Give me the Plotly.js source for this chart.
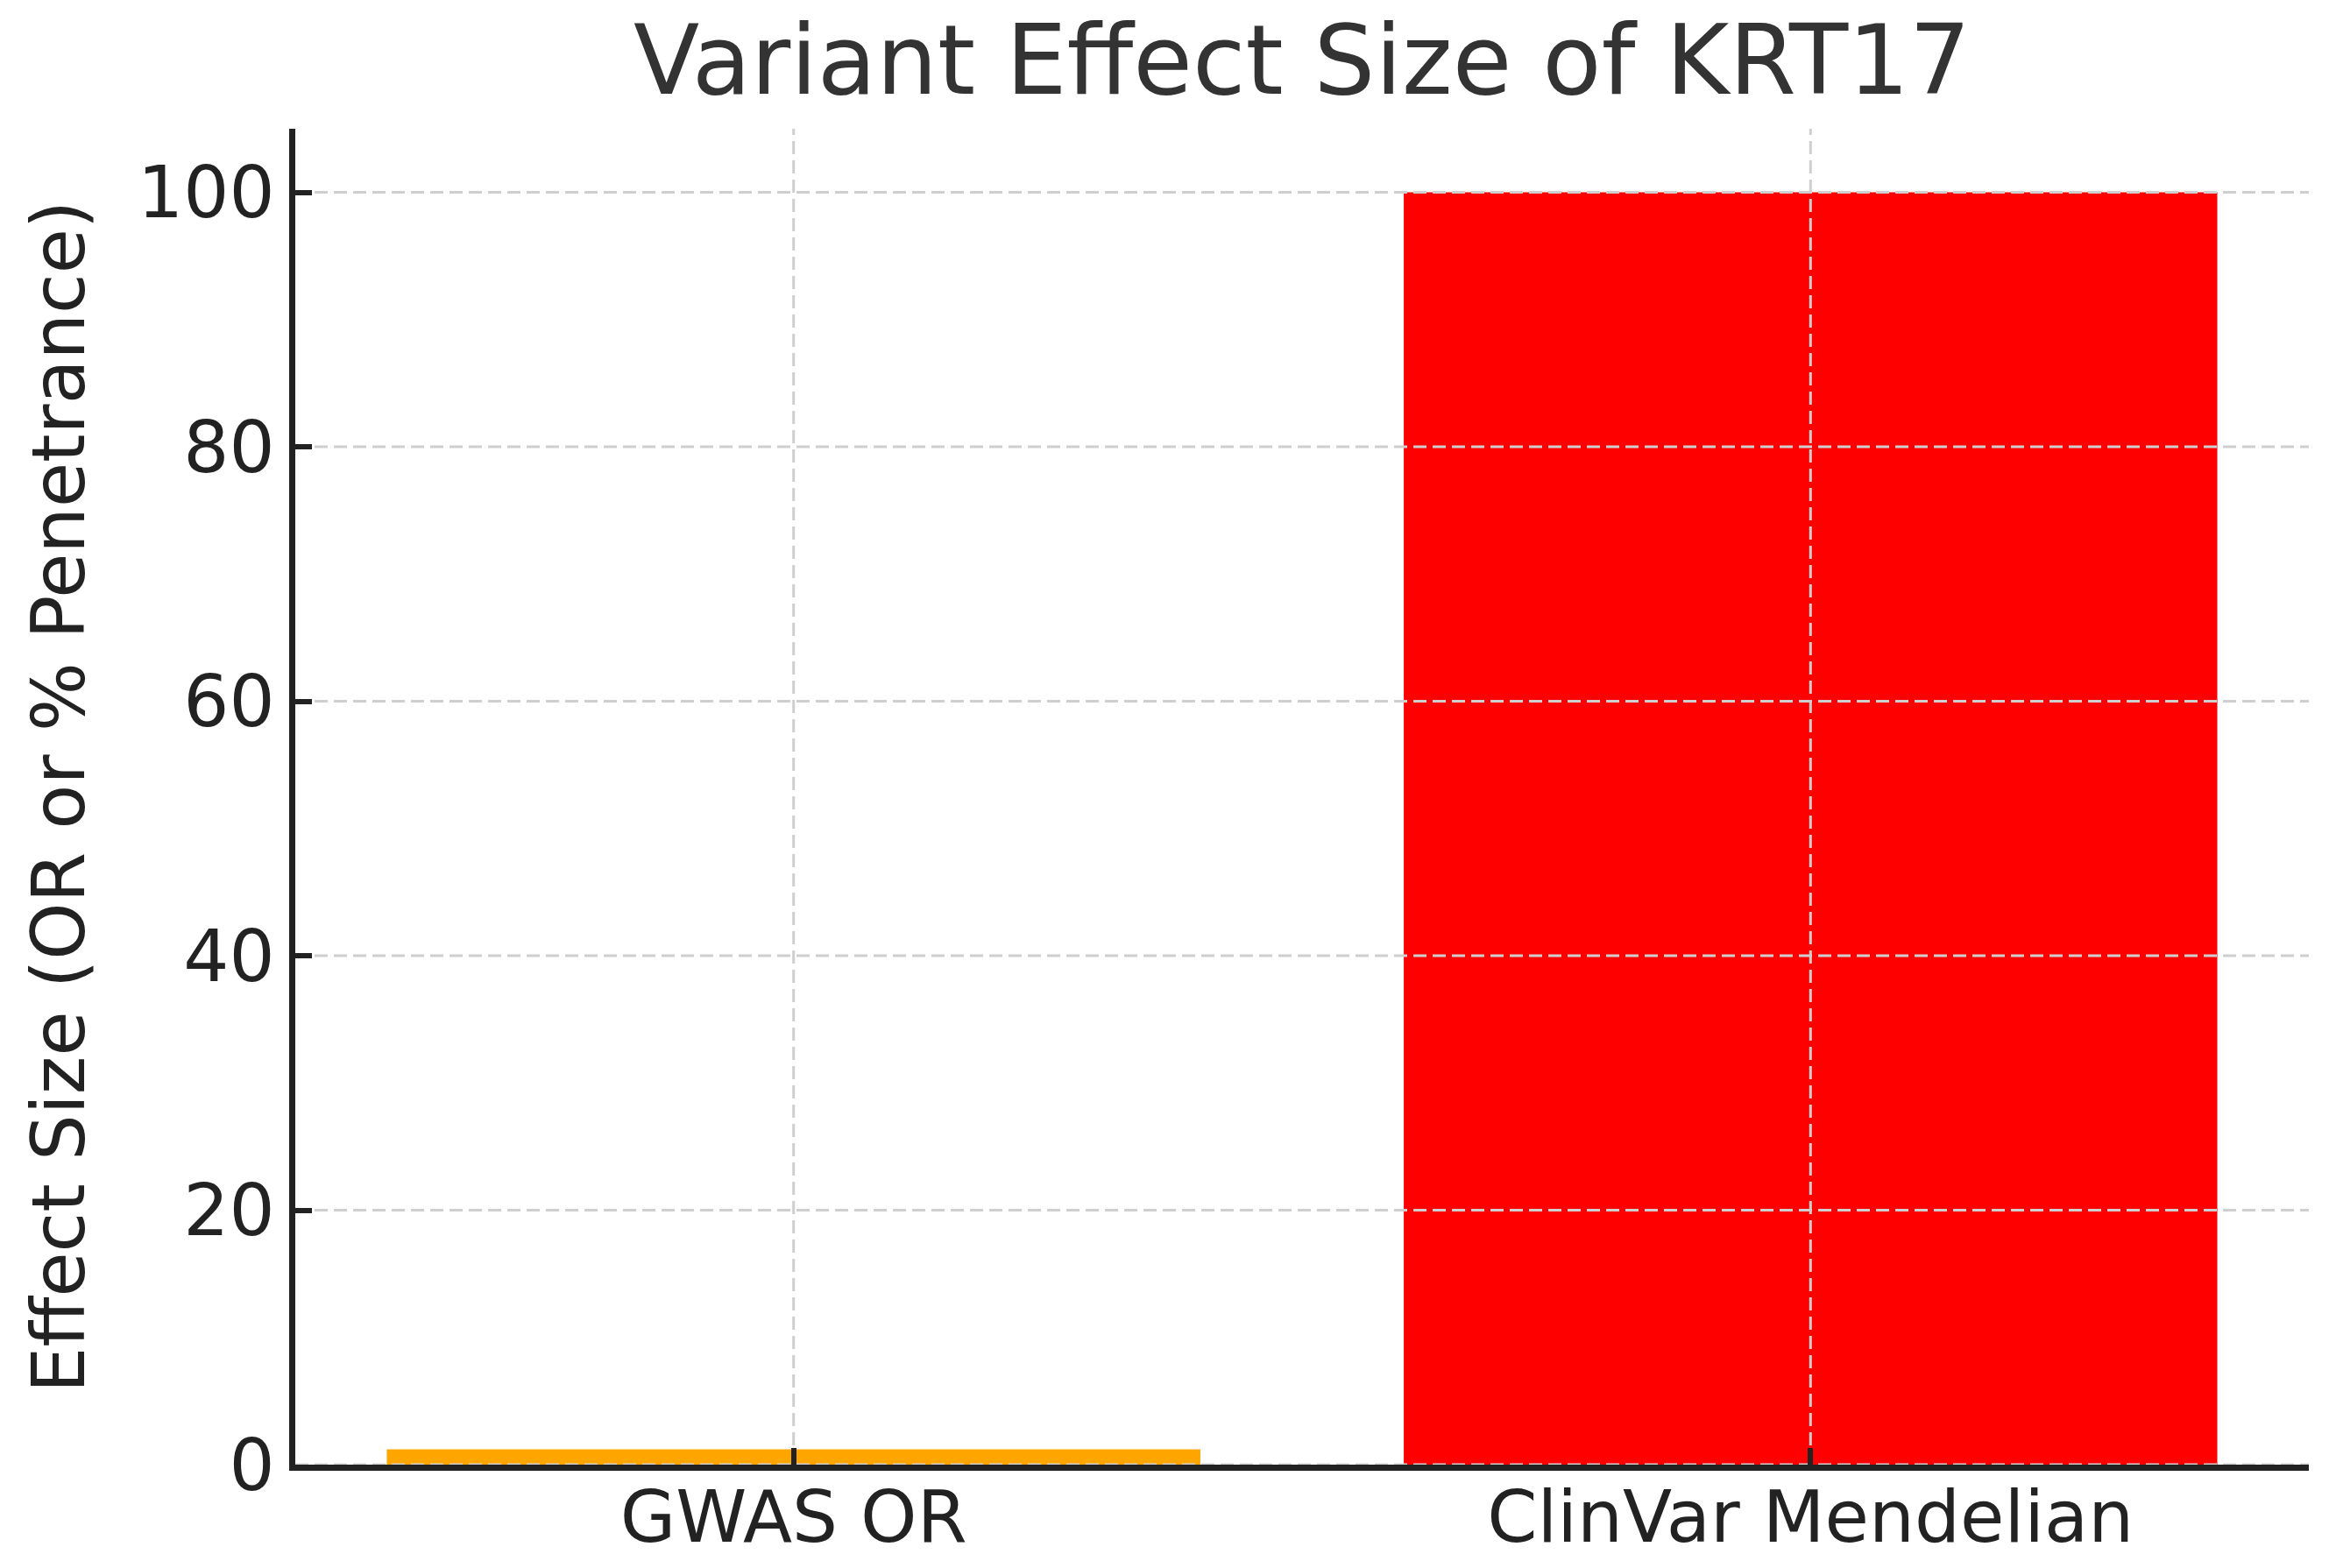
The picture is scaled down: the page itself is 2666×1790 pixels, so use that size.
<!DOCTYPE html>
<html>
<head>
<meta charset="utf-8">
<script src="https://cdn.plot.ly/plotly-3.0.1.min.js"></script>
<style>html,body{margin:0;padding:0;background:#fff;}</style>
</head>
<body>
<div id="chart" style="width:2666px;height:1790px;"></div>
<script>
// ---- data ----
const categories = ["GWAS OR", "ClinVar Mendelian"];
const effectSizes = [1.2, 100];
const barColors = ["#FFA500", "#FF0000"];
const yTickValues = [0, 20, 40, 60, 80, 100];
const yTickLabels = ["0", "20", "40", "60", "80", "100"];
const xRange = [-0.49, 1.49];
const yRange = [0, 105];

const chartTitle = "Variant Effect Size of KRT17";
const yTitle = "Effect Size (OR or % Penetrance)";

const gridStyle = {color: "#cfcfcf", width: 3, dash: "15px,7px"};

const traces = [];
traces.push({
  type: "bar",
  x: categories,
  y: effectSizes,
  width: 0.8,
  marker: {color: barColors, line: {width: 0}},
  hoverinfo: "x+y",
  showlegend: false
});

// gridlines drawn above the bars (overlay axes share the same ranges)
yTickValues.forEach(function (t) {
  traces.push({
    type: "scatter", mode: "lines", xaxis: "x2", yaxis: "y2",
    x: [xRange[0], xRange[1]], y: [t, t],
    line: gridStyle, hoverinfo: "skip", showlegend: false
  });
});
categories.forEach(function (c, i) {
  traces.push({
    type: "scatter", mode: "lines", xaxis: "x2", yaxis: "y2",
    x: [i, i], y: [yRange[0], yRange[1]],
    line: gridStyle, hoverinfo: "skip", showlegend: false
  });
});

const axisFont = {family: "DejaVu Sans", size: 82, color: "#222222"};

const layout = {
  width: 2666,
  height: 1790,
  paper_bgcolor: "#ffffff",
  plot_bgcolor: "#ffffff",
  margin: {l: 337, r: 31, t: 147, b: 118, pad: 0},
  title: {
    text: chartTitle,
    font: {family: "DejaVu Sans", size: 110, color: "#333333"},
    x: 0.5, xanchor: "center",
    xref: "paper",
    y: 0.962, yanchor: "middle", yref: "container"
  },
  xaxis: {
    type: "category",
    range: xRange,
    autorange: false,
    showgrid: false,
    zeroline: false,
    showline: true,
    linecolor: "#222222",
    linewidth: 7,
    ticks: "inside",
    ticklen: 19,
    tickwidth: 6,
    tickcolor: "#222222",
    tickfont: axisFont,
    ticklabelstandoff: -17,
    layer: "above traces",
    fixedrange: true
  },
  yaxis: {
    range: yRange,
    autorange: false,
    tickvals: yTickValues,
    ticktext: yTickLabels,
    showgrid: false,
    zeroline: false,
    showline: true,
    linecolor: "#222222",
    linewidth: 7,
    ticks: "inside",
    ticklen: 19,
    tickwidth: 6,
    tickcolor: "#222222",
    tickfont: axisFont,
    layer: "above traces",
    title: {
      text: yTitle,
      font: {family: "DejaVu Sans", size: 83, color: "#222222"},
      standoff: 36
    },
    fixedrange: true
  },
  xaxis2: {
    overlaying: "x", range: xRange, autorange: false, visible: false,
    showgrid: false, zeroline: false, fixedrange: true
  },
  yaxis2: {
    overlaying: "y", range: yRange, autorange: false, visible: false,
    showgrid: false, zeroline: false, fixedrange: true
  },
  showlegend: false
};

Plotly.newPlot("chart", traces, layout, {displayModeBar: false, staticPlot: true});
</script>
</body>
</html>
